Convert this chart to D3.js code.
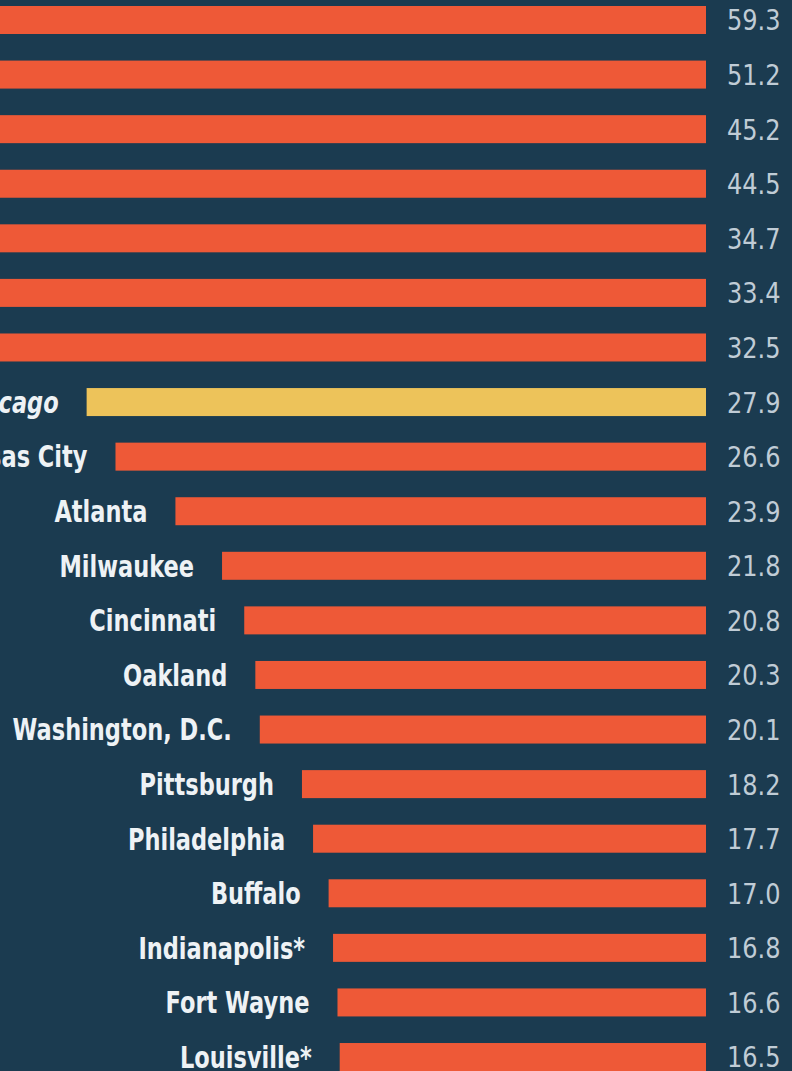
<!DOCTYPE html>
<html>
<head>
<meta charset="utf-8">
<script src="https://cdn.jsdelivr.net/npm/d3@7"></script>
<style>
  html, body { margin: 0; padding: 0; background: #1b3b50; overflow: hidden; }
  svg { display: block; }
</style>
</head>
<body>
<svg id="chart" width="792" height="1071"></svg>
<script>
const cities = ["St. Louis", "Baltimore", "Detroit", "New Orleans", "Cleveland", "Memphis", "Newark",
  "Chicago", "Kansas City", "Atlanta", "Milwaukee", "Cincinnati", "Oakland", "Washington, D.C.",
  "Pittsburgh", "Philadelphia", "Buffalo", "Indianapolis*", "Fort Wayne", "Louisville*"];
const values = [59.3, 51.2, 45.2, 44.5, 34.7, 33.4, 32.5, 27.9, 26.6, 23.9, 21.8, 20.8, 20.3, 20.1,
  18.2, 17.7, 17.0, 16.8, 16.6, 16.5];
const valueLabels = ["59.3", "51.2", "45.2", "44.5", "34.7", "33.4", "32.5", "27.9", "26.6", "23.9",
  "21.8", "20.8", "20.3", "20.1", "18.2", "17.7", "17.0", "16.8", "16.6", "16.5"];
const highlight = ["Chicago"];

const data = cities.map((c, i) => ({ city: c, value: values[i], label: valueLabels[i] }));

const svg = d3.select("#chart");
const W = 792, H = 1071;
svg.append("rect").attr("width", W).attr("height", H).attr("fill", "#1b3b50");

const xRight = 706;
const x = d3.scaleLinear().domain([0, 30]).range([xRight, xRight - 666]);

const step = 54.58;
const y = d3.scaleBand()
  .domain(cities)
  .range([20 - step / 2, 20 - step / 2 + step * cities.length])
  .paddingInner(0.487)
  .paddingOuter(0.2435);

const g = svg.append("g");

g.selectAll("rect.bar").data(data).join("rect")
  .attr("class", "bar")
  .attr("x", d => x(d.value))
  .attr("width", d => xRight - x(d.value))
  .attr("y", d => y(d.city))
  .attr("height", y.bandwidth())
  .attr("fill", d => highlight.includes(d.city) ? "#edc35a" : "#ee5937");

g.selectAll("text.city").data(data).join("text")
  .attr("class", "city")
  .attr("transform", d => `translate(${x(d.value) - 28},${y(d.city) + y.bandwidth() / 2}) scale(0.75,1)`)
  .attr("dy", "0.36em")
  .attr("text-anchor", "end")
  .attr("font-family", "'DejaVu Sans', sans-serif")
  .attr("font-weight", "bold")
  .attr("font-style", d => highlight.includes(d.city) ? "italic" : "normal")
  .attr("font-size", 30)
  .attr("fill", "#eef2f5")
  .text(d => d.city);

g.selectAll("text.val").data(data).join("text")
  .attr("class", "val")
  .attr("transform", d => `translate(${xRight + 21},${y(d.city) + y.bandwidth() / 2}) scale(0.83,1)`)
  .attr("dy", "0.36em")
  .attr("font-family", "'DejaVu Sans', sans-serif")
  .attr("font-size", 29)
  .attr("fill", "#c0ccd6")
  .text(d => d.label);
</script>
</body>
</html>
